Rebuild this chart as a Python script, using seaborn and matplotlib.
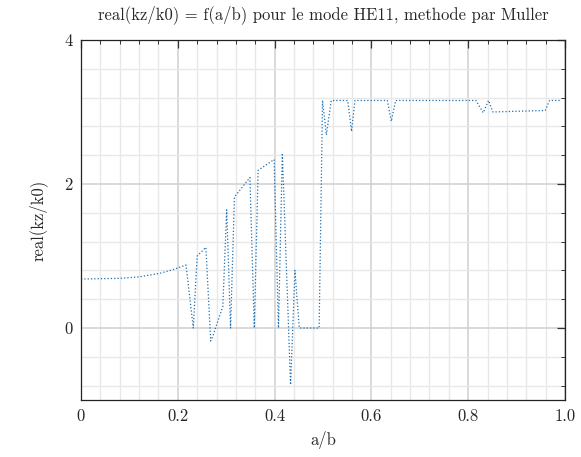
import matplotlib
matplotlib.use("Agg")
import matplotlib.pyplot as plt
import pandas as pd
import seaborn as sns
from matplotlib.ticker import MultipleLocator

# values
a_sur_b = [0.0, 0.04, 0.08, 0.12, 0.163, 0.19, 0.217, 0.232, 0.240, 0.258,
           0.268, 0.273, 0.293, 0.301, 0.309, 0.317, 0.349, 0.358, 0.366,
           0.399, 0.408, 0.416, 0.433, 0.442, 0.451, 0.492, 0.499, 0.507,
           0.517, 0.551, 0.559, 0.566, 0.633, 0.641, 0.650, 0.816, 0.831,
           0.842, 0.851, 0.90, 0.959, 0.968, 0.99]
kz_k0 = [0.68, 0.685, 0.69, 0.71, 0.76, 0.81, 0.875, 0.0, 1.0, 1.12,
         -0.18, -0.1, 0.3, 1.64, 0.0, 1.82, 2.09, 0.0, 2.19,
         2.34, 0.0, 2.43, -0.79, 0.8, 0.0, 0.0, 3.16, 2.68,
         3.16, 3.16, 2.73, 3.16, 3.16, 2.87, 3.16, 3.16, 2.99,
         3.16, 3.0, 3.01, 3.02, 3.16, 3.16]

x_ticks = [0, 0.2, 0.4, 0.6, 0.8, 1.0]
x_tick_labels = ["0", "0.2", "0.4", "0.6", "0.8", "1.0"]
y_ticks = [0, 2, 4]
y_tick_labels = ["0", "2", "4"]


def main() -> None:
    sns.set_theme(style="white")
    plt.rcParams["font.family"] = ["cmr10", "DejaVu Serif"]
    plt.rcParams["mathtext.fontset"] = "cm"
    plt.rcParams["axes.formatter.use_mathtext"] = True

    df = pd.DataFrame({"a/b": a_sur_b, "kz": kz_k0})

    fig = plt.figure(figsize=(5.81, 4.57), dpi=100)
    ax = fig.add_axes([0.1394, 0.1247, 0.8331, 0.7878])

    sns.lineplot(data=df, x="a/b", y="kz", sort=False, estimator=None,
                 color="#1f6fb0", linestyle=":", linewidth=0.9, ax=ax)

    ax.set_xlim(0, 1)
    ax.set_ylim(-1, 4)
    ax.set_xticks(x_ticks, x_tick_labels)
    ax.set_yticks(y_ticks, y_tick_labels)
    ax.xaxis.set_minor_locator(MultipleLocator(0.04))
    ax.yaxis.set_minor_locator(MultipleLocator(0.4))

    ax.grid(which="major", color="#cfcfcf", linewidth=1.1)
    ax.grid(which="minor", color="#e8e8e8", linewidth=1.0)
    ax.set_axisbelow(True)

    ax.tick_params(which="both", direction="in", top=True, right=True,
                   color="#333333", labelsize=12)
    ax.tick_params(which="major", length=6, width=0.9, pad=6)
    ax.tick_params(which="minor", length=3, width=0.7)
    for side in ax.spines.values():
        side.set_color("#222222")
        side.set_linewidth(0.9)

    ax.set_title("real(kz/k0) = f(a/b) pour le mode HE11, methode par Muller",
                 fontsize=12, pad=15)
    ax.set_xlabel("a/b", fontsize=12, labelpad=5)
    ax.set_ylabel("real(kz/k0)", fontsize=12, labelpad=12)

    fig.savefig("out.png", dpi=100)
    plt.close(fig)


if __name__ == "__main__":
    main()
